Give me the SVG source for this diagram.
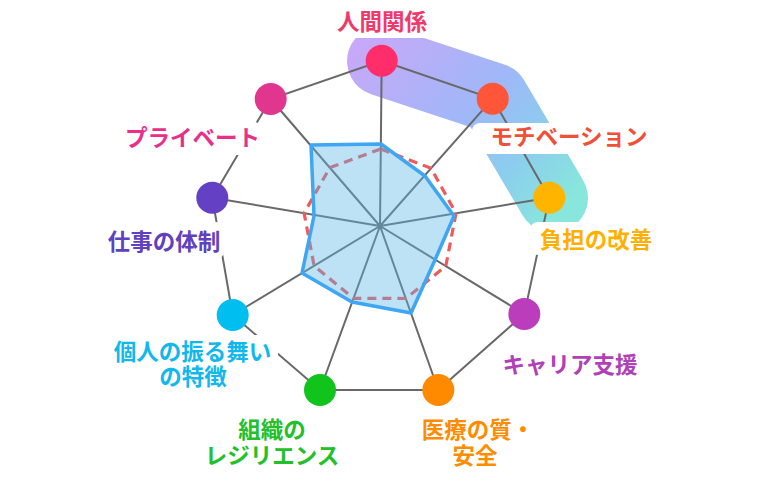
<svg xmlns="http://www.w3.org/2000/svg" width="768" height="482" viewBox="0 0 768 482">
<defs>
<linearGradient id="bandGrad" gradientUnits="userSpaceOnUse" x1="360" y1="40" x2="550" y2="220">
<stop offset="0" stop-color="#c8a8f8"/>
<stop offset="0.5" stop-color="#9fb8f8"/>
<stop offset="0.75" stop-color="#8ccdee"/>
<stop offset="1" stop-color="#88e6dc"/>
</linearGradient>
<style>
.lbl { font-family: "Noto Sans CJK JP", "Noto Sans", sans-serif; font-size: 22.5px; font-weight: 700; text-anchor: middle; }
.box { fill: #ffffff; }
.edge { stroke: #696969; stroke-width: 2; fill: none; }
.node { stroke: none; }
</style>
</defs>
<rect x="0" y="0" width="768" height="482" fill="#ffffff"/>
<g id="highlight">
<path d="M382,61 L494,98 L553,198" fill="none" stroke="url(#bandGrad)" stroke-width="70" stroke-linecap="round" stroke-linejoin="round"/>
</g>
<g id="connectors">
<polygon class="edge" points="381.7,60.7 492.7,98.7 549.3,197.7 524.3,314 438.3,390 320,390 232.7,315 212.3,197.7 270.7,99"/>
<path class="edge" d="M380,226 L381.7,60.7 M380,226 L492.7,98.7 M380,226 L549.3,197.7 M380,226 L524.3,314 M380,226 L438.3,390 M380,226 L320,390 M380,226 L232.7,315 M380,226 L212.3,197.7 M380,226 L270.7,99"/>
</g>
<g id="data">
<polygon points="380.8,149 431.1,168.3 456,213.3 445.8,266.1 405.8,298.5 353.5,298.3 314.1,265.8 304.1,213.2 329.8,167.6" fill="none" stroke="#f05a5a" stroke-width="3.2" stroke-dasharray="9 6"/>
<polygon points="381,144 425,176 454,216 435,260 411,313 352,302 302,273 314,216 311,145" fill="#5ab4e6" fill-opacity="0.4" stroke="#3ea6f2" stroke-width="3.5" stroke-linejoin="round"/>
</g>
<g id="node-ningen">
<rect class="box" x="328" y="4" width="108" height="34" rx="8"/>
<text class="lbl" x="382" y="30" fill="#f0386a">人間関係</text>
<circle class="node" cx="381.7" cy="60.7" r="16" fill="#ff2e6a"/>
</g>
<g id="node-motivation">
<rect class="box" x="472" y="123" width="186" height="31" rx="8"/>
<text class="lbl" x="569" y="145" fill="#f05038">モチベーション</text>
<circle class="node" cx="492.7" cy="98.7" r="16" fill="#ff5538"/>
</g>
<g id="node-futan">
<rect class="box" x="530" y="222" width="132" height="33" rx="8"/>
<text class="lbl" x="596" y="248" fill="#ffb000">負担の改善</text>
<circle class="node" cx="549.3" cy="197.7" r="16" fill="#ffb400"/>
</g>
<g id="node-career">
<rect class="box" x="498" y="349" width="144" height="32" rx="8"/>
<text class="lbl" x="570" y="373" fill="#b040b8">キャリア支援</text>
<circle class="node" cx="524.3" cy="314" r="16" fill="#bb3dbb"/>
</g>
<g id="node-iryo">
<rect class="box" x="414" y="414" width="130" height="58" rx="8"/>
<text class="lbl" fill="#ff8c00"><tspan x="478" y="438">医療の質・</tspan><tspan x="475" y="464">安全</tspan></text>
<circle class="node" cx="438.3" cy="390" r="16" fill="#ff8a00"/>
</g>
<g id="node-soshiki">
<rect class="box" x="202" y="414" width="140" height="58" rx="8"/>
<text class="lbl" fill="#22c02a"><tspan x="272" y="438">組織の</tspan><tspan x="272" y="464">レジリエンス</tspan></text>
<circle class="node" cx="320" cy="390" r="16" fill="#11c41c"/>
</g>
<g id="node-kojin">
<rect class="box" x="108" y="335" width="170" height="58" rx="8"/>
<text class="lbl" fill="#10b8ee"><tspan x="192.5" y="360">個人の振る舞い</tspan><tspan x="193" y="385">の特徴</tspan></text>
<circle class="node" cx="232.7" cy="315" r="16" fill="#00bef0"/>
</g>
<g id="node-shigoto">
<rect class="box" x="106" y="222" width="118" height="37" rx="8"/>
<text class="lbl" x="164" y="250" fill="#6040c0">仕事の体制</text>
<circle class="node" cx="212.3" cy="197.7" r="16" fill="#6440c4"/>
</g>
<g id="node-private">
<rect class="box" x="124" y="122" width="138" height="33" rx="8"/>
<text class="lbl" x="192.5" y="146" fill="#e8308a">プライベート</text>
<circle class="node" cx="270.7" cy="99" r="16" fill="#e0368e"/>
</g>
</svg>
